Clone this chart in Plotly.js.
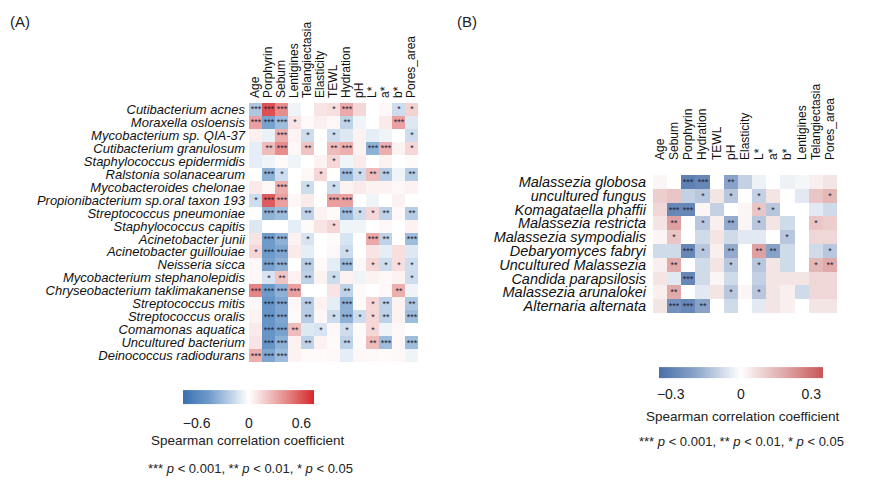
<!DOCTYPE html>
<html>
<head>
<meta charset="utf-8">
<script src="https://cdn.plot.ly/plotly-3.0.1.min.js"></script>
<style>html,body{margin:0;padding:0;background:#fff;}#chart{width:872px;height:494px;}</style>
</head>
<body>
<div id="chart"></div>
<script>
// ---------------- Panel A data ----------------
const traitsA = ["Age","Porphyrin","Sebum","Lentigines","Telangiectasia","Elasticity","TEWL","Hydration","pH","L*","a*","b*","Pores_area"];
const speciesA = ["Cutibacterium acnes","Moraxella osloensis","Mycobacterium sp. QIA-37","Cutibacterium granulosum","Staphylococcus epidermidis","Ralstonia solanacearum","Mycobacteroides chelonae","Propionibacterium sp.oral taxon 193","Streptococcus pneumoniae","Staphylococcus capitis","Acinetobacter junii","Acinetobacter guillouiae","Neisseria sicca","Mycobacterium stephanolepidis","Chryseobacterium taklimakanense","Streptococcus mitis","Streptococcus oralis","Comamonas aquatica","Uncultured bacterium","Deinococcus radiodurans"];
const corrA = [
  [-0.25, 0.62, 0.42,-0.05, 0.00, 0.10, 0.12, 0.32, 0.15, 0.00, 0.03,-0.15, 0.17],
  [ 0.35,-0.42,-0.30, 0.10, 0.02, 0.06, 0.03,-0.20,-0.05, 0.00, 0.08, 0.35,-0.10],
  [ 0.06,-0.06, 0.30, 0.04,-0.15, 0.00,-0.15,-0.10, 0.05,-0.08,-0.05, 0.00,-0.15],
  [-0.08, 0.25, 0.42, 0.03, 0.22, 0.00, 0.25, 0.30, 0.05,-0.35, 0.30, 0.05, 0.15],
  [-0.08,-0.05, 0.02,-0.05, 0.00, 0.05, 0.15,-0.05, 0.08, 0.00, 0.05, 0.00, 0.02],
  [ 0.00,-0.35,-0.15, 0.00, 0.03, 0.15, 0.00,-0.30,-0.15, 0.25,-0.22,-0.05,-0.22],
  [ 0.08, 0.03, 0.30, 0.00,-0.15, 0.00,-0.15, 0.05, 0.08, 0.05, 0.05, 0.03, 0.05],
  [-0.15, 0.58, 0.35, 0.03, 0.08, 0.00, 0.35, 0.35, 0.00,-0.05, 0.00, 0.05, 0.00],
  [ 0.00,-0.35,-0.30, 0.00,-0.20, 0.05, 0.02,-0.30,-0.15, 0.15,-0.20, 0.03,-0.22],
  [-0.10, 0.00, 0.00,-0.08, 0.02, 0.10, 0.15,-0.05,-0.05, 0.00, 0.03, 0.00, 0.05],
  [ 0.10,-0.45,-0.35, 0.05,-0.12, 0.00, 0.02,-0.12, 0.00, 0.32,-0.20, 0.00,-0.30],
  [ 0.15,-0.45,-0.40, 0.08,-0.08, 0.00, 0.03,-0.15, 0.00, 0.10,-0.08, 0.12,-0.10],
  [ 0.03,-0.42,-0.35, 0.00,-0.22, 0.02,-0.08,-0.30, 0.03, 0.15,-0.15, 0.12,-0.15],
  [ 0.03,-0.12, 0.22, 0.05,-0.20, 0.05,-0.15, 0.05,-0.05, 0.05, 0.03, 0.05,-0.15],
  [ 0.45,-0.45,-0.35, 0.35, 0.00, 0.00, 0.10,-0.20, 0.02, 0.00, 0.03, 0.30,-0.05],
  [ 0.03,-0.50,-0.40, 0.03,-0.22, 0.05,-0.08,-0.35, 0.02, 0.15,-0.20, 0.05,-0.25],
  [ 0.05,-0.50,-0.40, 0.02,-0.22, 0.03,-0.15,-0.35,-0.15, 0.15,-0.20, 0.05,-0.30],
  [ 0.08,-0.50,-0.42, 0.25,-0.10,-0.12, 0.03,-0.15, 0.02, 0.15,-0.05, 0.03, 0.00],
  [ 0.10,-0.50,-0.35, 0.05,-0.20, 0.05, 0.02,-0.20, 0.02, 0.25,-0.30, 0.03,-0.30],
  [ 0.30,-0.40,-0.30, 0.05, 0.02, 0.02, 0.03,-0.08, 0.03, 0.03, 0.02, 0.03,-0.05]
];
const starsA = [
  ["***","***","***","","","","*","***","","","","*","*"],
  ["***","***","***","*","","","","**","","","","***",""],
  ["","","***","","*","","*","","","","","","*"],
  ["","**","***","","**","","**","***","","***","***","","*"],
  ["","","","","","","*","","","","","",""],
  ["","***","*","","","*","","***","*","**","**","","**"],
  ["","","***","","*","","*","","","","","",""],
  ["*","***","***","","","","***","***","","","","",""],
  ["","***","***","","**","","","***","*","*","**","","**"],
  ["","","","","","","*","","","","","",""],
  ["","***","***","","*","","","","","***","**","","***"],
  ["*","***","***","","","","","*","","","","",""],
  ["","***","***","","**","","","***","","*","*","*","*"],
  ["","*","**","","**","","*","","","","","","*"],
  ["***","***","***","***","","","","**","","","","**",""],
  ["","***","***","","**","","","***","","*","**","","**"],
  ["","***","***","","**","","*","***","*","*","**","","***"],
  ["","***","***","**","","*","","*","","*","","",""],
  ["","***","***","","**","","","**","","**","***","","***"],
  ["***","***","***","","","","","","","","","",""]
];
const ticksA = [-0.6, 0, 0.6];

// ---------------- Panel B data ----------------
const traitsB = ["Age","Sebum","Porphyrin","Hydration","TEWL","pH","Elasticity","L*","a*","b*","Lentigines","Telangiectasia","Pores_area"];
const speciesB = ["Malassezia globosa","uncultured fungus","Komagataella phaffii","Malassezia restricta","Malassezia sympodialis","Debaryomyces fabryi","Uncultured Malassezia","Candida parapsilosis","Malassezia arunalokei","Alternaria alternata"];
const corrB = [
  [ 0.02, 0.00,-0.30,-0.28, 0.00,-0.20,-0.10,-0.03, 0.00,-0.03,-0.02, 0.03, 0.05],
  [ 0.10, 0.12,-0.10,-0.12, 0.05,-0.12, 0.00,-0.10, 0.05, 0.00,-0.05, 0.12, 0.15],
  [ 0.08,-0.28,-0.28, 0.02,-0.10, 0.00, 0.02, 0.12,-0.12, 0.00, 0.00,-0.05,-0.08],
  [ 0.05, 0.20, 0.00,-0.12, 0.03,-0.18, 0.02,-0.12, 0.05,-0.08, 0.00, 0.12, 0.10],
  [ 0.02, 0.12, 0.00,-0.08, 0.05,-0.08,-0.05,-0.05, 0.00,-0.12, 0.00, 0.08, 0.08],
  [-0.08,-0.08,-0.28,-0.12, 0.03,-0.18, 0.00, 0.20,-0.20,-0.08, 0.00,-0.08,-0.12],
  [ 0.03, 0.18, 0.00,-0.08, 0.05,-0.12, 0.00,-0.12, 0.05,-0.08, 0.00, 0.15, 0.18],
  [ 0.05,-0.05,-0.28,-0.08, 0.02,-0.08, 0.00,-0.10, 0.05, 0.05, 0.05, 0.08, 0.08],
  [ 0.03, 0.18, 0.00,-0.05, 0.05,-0.12, 0.02,-0.12, 0.05, 0.03,-0.08, 0.08, 0.08],
  [ 0.05,-0.25,-0.28,-0.20, 0.00,-0.08, 0.00,-0.05, 0.05, 0.03, 0.00, 0.05, 0.05]
];
const starsB = [
  ["","","***","***","","**","","","","","","",""],
  ["","","","*","","*","","*","","","","","*"],
  ["","***","***","","","","","*","*","","","",""],
  ["","**","","*","","**","","*","","","","*",""],
  ["","*","","","","","","","","*","","",""],
  ["","","***","*","","**","","**","**","","","","*"],
  ["","**","","","","*","","*","","","","*","**"],
  ["","","***","","","","","","","","","",""],
  ["","**","","","","*","","*","","","","",""],
  ["","***","***","**","","","","","","","","",""]
];
const ticksB = [-0.3, 0, 0.3];

const cbTitle = "Spearman correlation coefficient";
const pNote = "*** <i>p</i> &lt; 0.001, ** <i>p</i> &lt; 0.01, * <i>p</i> &lt; 0.05";

// ---------------- geometry helpers ----------------
const W = 872, H = 494;
const px = v => v / W;
const py = v => 1 - v / H;
const FONT = "Liberation Sans, Arial, sans-serif";

const scaleA = [[0,'#3a70b0'],[0.2,'#6f9bcb'],[0.38,'#c4d6ea'],[0.5,'#ffffff'],[0.62,'#f3cfcf'],[0.8,'#e58585'],[1,'#d6262a']];
const scaleB = [[0,'#4a6fa8'],[0.22,'#8aa3c9'],[0.42,'#dfe6f0'],[0.5,'#ffffff'],[0.58,'#f3e2e2'],[0.78,'#dea3a4'],[1,'#c75557']];

const traceA = {
  type:'heatmap', x: traitsA, y: speciesA, z: corrA, text: starsA,
  texttemplate:'%{text}', textfont:{family:FONT, size:9, color:'#1d2333'},
  colorscale: scaleA, zmin:-0.75, zmax:0.75, xaxis:'x', yaxis:'y', hoverinfo:'skip',
  colorbar:{orientation:'h', x:px(249), xanchor:'center', y:py(411), yanchor:'middle',
    len:131, lenmode:'pixels', thickness:14, thicknessmode:'pixels', outlinewidth:0,
    tickvals:ticksA, ticks:'outside', ticklen:8, tickcolor:'rgba(0,0,0,0)', tickfont:{family:FONT, size:14, color:'#222'}, xpad:0, ypad:0}
};
const traceB = {
  type:'heatmap', x: traitsB, y: speciesB, z: corrB, text: starsB,
  texttemplate:'%{text}', textfont:{family:FONT, size:9, color:'#1d2333'},
  colorscale: scaleB, zmin:-0.35, zmax:0.35, xaxis:'x2', yaxis:'y2', hoverinfo:'skip',
  colorbar:{orientation:'h', x:px(741), xanchor:'center', y:py(385), yanchor:'middle',
    len:164, lenmode:'pixels', thickness:11, thicknessmode:'pixels', outlinewidth:0,
    tickvals:ticksB, ticks:'outside', ticklen:5, tickcolor:'rgba(0,0,0,0)', tickfont:{family:FONT, size:14, color:'#222'}, xpad:0, ypad:0}
};

const xcommon = {type:'category', side:'top', tickangle:-90, tickmode:'linear', tick0:0, dtick:1, showgrid:false, zeroline:false, showline:false, ticks:'', automargin:false, tickfont:{family:FONT, size:12, color:'#111'}};
const ycommon = {type:'category', autorange:'reversed', tickmode:'linear', tick0:0, dtick:1, showgrid:false, zeroline:false, showline:false, ticks:'', automargin:false};

const layout = {
  width:W, height:H, margin:{l:0,r:0,t:0,b:0}, paper_bgcolor:'#fff', plot_bgcolor:'#fff',
  font:{family:FONT, color:'#111'}, showlegend:false,
  xaxis: Object.assign({}, xcommon, {domain:[px(249), px(418)], anchor:'y', ticklabelstandoff:4}),
  yaxis: Object.assign({}, ycommon, {domain:[py(362), py(103)], anchor:'x', ticklabelstandoff:3,
    tickfont:{family:FONT, size:13, color:'#111', style:'italic'}}),
  xaxis2: Object.assign({}, xcommon, {domain:[px(653), px(837)], anchor:'y2', ticklabelstandoff:14}),
  yaxis2: Object.assign({}, ycommon, {domain:[py(313), py(175)], anchor:'x2', ticklabelstandoff:6,
    tickfont:{family:FONT, size:14.5, color:'#111', style:'italic'}}),
  annotations:[
    {text:'(A)', x:px(8), y:py(22), xref:'paper', yref:'paper', xanchor:'left', yanchor:'middle', showarrow:false, font:{family:FONT, size:15, color:'#222'}},
    {text:'(B)', x:px(455), y:py(22), xref:'paper', yref:'paper', xanchor:'left', yanchor:'middle', showarrow:false, font:{family:FONT, size:15, color:'#222'}},
    {text:cbTitle, x:px(248), y:py(440), xref:'paper', yref:'paper', xanchor:'center', yanchor:'middle', showarrow:false, font:{family:FONT, size:13.5, color:'#222'}},
    {text:pNote, x:px(250), y:py(468), xref:'paper', yref:'paper', xanchor:'center', yanchor:'middle', showarrow:false, font:{family:FONT, size:13, color:'#222'}},
    {text:cbTitle, x:px(743), y:py(416), xref:'paper', yref:'paper', xanchor:'center', yanchor:'middle', showarrow:false, font:{family:FONT, size:13.5, color:'#222'}},
    {text:pNote, x:px(741), y:py(441), xref:'paper', yref:'paper', xanchor:'center', yanchor:'middle', showarrow:false, font:{family:FONT, size:13, color:'#222'}}
  ]
};

Plotly.newPlot('chart', [traceA, traceB], layout, {staticPlot:true, displayModeBar:false});
</script>
</body>
</html>
